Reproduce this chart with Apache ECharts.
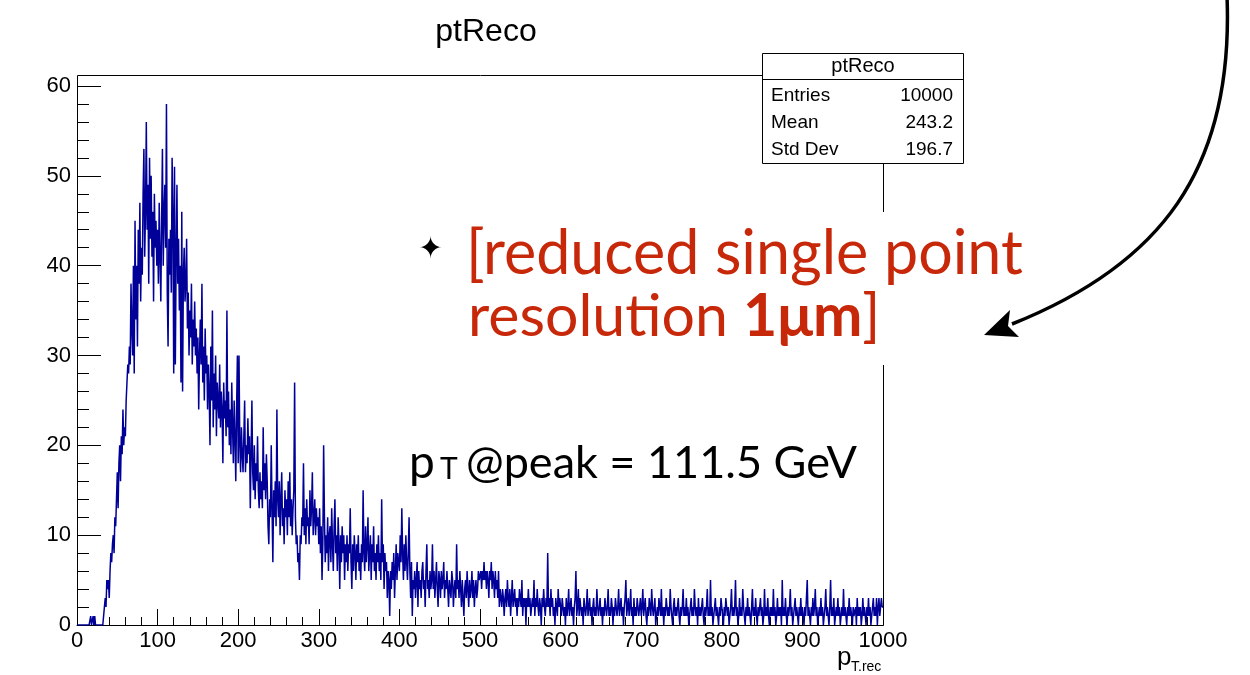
<!DOCTYPE html>
<html>
<head>
<meta charset="utf-8">
<title>ptReco</title>
<script src="https://cdn.jsdelivr.net/npm/echarts@6/dist/echarts.min.js"></script>
<style>
  html, body { margin: 0; padding: 0; background: #fff; }
  #chart { width: 1250px; height: 675px; }
</style>
</head>
<body>
<div id="chart"></div>
<script>
// histogram ptReco, 1000 bins of width 1 GeV from 0 to 1000
const binWidth = 1;
const xRange = [0, 1000];
const yRange = [0, 60];

const counts0 = [
  0,0,0,0,0,0,0,0,0,0,
  0,0,0,0,0,0,0,1,0,0,
  1,0,1,0,0,0,0,0,0,0,
  0,0,0,1,1,3,2,5,4,5,
  3,6,8,7,9,10,8,12,11,14,
  17,13,18,20,16,21,19,24,20,22,
  21,25,27,29,28,31,29,38,33,30,
  40,28,45,34,40,31,44,38,47,36,
  42,39,48,53,41,46,56,44,49,38,
  52,43,50,41,46,36,48,42,45,40
];
const counts1 = [
  44,38,47,41,36,45,53,40,46,49,
  42,58,37,31,43,39,44,37,52,46,
  28,51,29,41,49,38,43,35,40,27,
  46,26,39,42,36,38,43,33,37,30,
  35,32,38,29,34,31,36,30,33,28,
  32,24,30,34,29,38,27,31,25,33,
  28,30,24,29,26,20,31,25,35,22,
  28,24,30,21,27,25,23,29,22,26,
  24,18,27,23,25,21,35,22,26,20,
  24,19,27,22,18,25,21,16,24,30
];
const counts2 = [
  18,30,20,17,22,19,17,21,25,17,
  20,18,23,19,21,13,19,25,17,15,
  20,14,18,16,21,15,13,17,14,16,
  13,22,15,18,14,19,16,11,9,14,
  12,20,13,7,15,12,16,11,24,14,
  12,16,10,14,17,11,13,9,15,12,
  14,10,16,12,17,11,14,10,13,15,
  27,12,9,10,7,8,5,10,9,12,
  11,18,10,13,9,14,11,12,9,15,
  11,13,17,10,12,14,10,13,11,12
];
const counts3 = [
  9,13,8,11,5,9,20,12,7,10,
  8,12,6,10,11,7,13,9,6,11,
  14,8,10,6,12,9,4,10,7,11,
  8,10,5,9,7,10,6,9,8,13,
  7,4,9,6,10,8,5,9,7,10,
  6,8,5,9,7,15,8,6,11,7,
  9,12,6,8,10,5,9,7,11,6,
  8,5,9,7,10,6,8,5,14,7,
  9,4,8,6,7,3,6,5,1,6,
  4,7,5,8,3,6,9,5,8,7
];
const counts4 = [
  6,10,7,13,8,5,9,6,10,7,
  5,8,12,6,3,7,1,5,4,6,
  3,5,7,2,6,4,5,3,6,7,
  4,5,2,6,9,4,5,3,6,4,
  5,9,4,6,3,5,7,4,2,6,
  5,3,6,4,5,7,3,5,4,6,
  6,2,5,4,3,6,5,2,4,5,
  3,9,4,5,3,6,4,2,5,3,
  1,4,5,3,6,4,2,5,3,4,
  6,3,5,2,4,5,3,4,6,5
];
const counts5 = [
  5,6,4,6,5,7,5,6,4,6,
  5,3,6,5,7,4,6,5,3,6,
  4,5,3,6,2,4,3,2,4,3,
  1,3,4,2,5,3,2,4,1,3,
  5,2,3,4,2,3,1,3,2,4,
  3,2,5,1,3,2,3,0,3,2,
  4,2,3,1,2,3,2,5,1,3,
  2,4,2,1,3,2,0,3,2,4,
  2,1,3,2,8,2,3,1,4,2,
  3,1,2,0,3,2,1,4,2,3
];
const counts6 = [
  2,1,3,2,1,2,0,3,1,2,
  4,1,2,3,1,2,0,2,3,6,
  1,2,4,1,3,2,1,2,0,3,
  2,1,2,4,1,2,3,1,2,0,
  2,3,1,2,1,4,2,1,2,3,
  1,2,0,2,1,3,2,1,2,4,
  1,2,1,3,2,0,2,1,3,2,
  1,2,4,1,2,3,1,2,0,2,
  3,5,1,2,3,1,2,4,1,2,
  0,3,1,2,1,3,2,1,2,3
];
const counts7 = [
  1,2,4,1,2,3,1,0,2,1,
  3,2,1,4,2,1,2,3,0,1,
  2,1,3,2,1,4,1,2,0,2,
  1,3,2,1,2,1,4,2,1,0,
  2,3,1,2,1,2,3,1,0,2,
  1,2,4,1,2,1,3,1,2,0,
  1,2,3,1,2,1,4,2,1,2,
  0,3,1,2,1,2,3,1,0,2,
  1,2,4,1,2,1,5,1,2,0,
  1,2,3,1,2,1,0,2,1,3
];
const counts8 = [
  2,1,0,2,1,3,2,1,2,0,
  1,2,4,1,2,1,2,5,1,2,
  0,1,3,1,2,1,4,2,1,0,
  2,1,3,1,2,1,0,2,4,1,
  2,1,3,1,0,2,1,2,3,1,
  2,0,1,4,1,2,1,3,1,0,
  2,1,2,1,4,1,2,0,1,3,
  1,2,1,2,0,5,1,2,1,3,
  1,0,2,1,2,4,1,2,0,1,
  2,3,1,2,1,0,2,1,3,1
];
const counts9 = [
  2,1,0,2,1,3,5,1,2,1,
  0,2,1,3,1,2,4,1,2,0,
  1,2,1,3,1,2,0,1,2,4,
  1,2,1,0,2,5,1,2,1,3,
  0,1,2,1,3,1,2,0,1,2,
  1,4,1,2,1,0,2,1,3,1,
  2,1,0,2,1,1,2,0,3,1,
  2,1,2,0,1,3,1,2,1,0,
  2,1,3,1,2,0,1,2,3,1,
  2,1,3,0,2,3,1,2,3,2
];

const counts = counts0.concat(counts1, counts2, counts3, counts4,
  counts5, counts6, counts7, counts8, counts9);

const statTitle = 'ptReco';
const statRows = [
  ['Entries', '10000'],
  ['Mean', '243.2'],
  ['Std Dev', '196.7'],
];

// step outline: each bin drawn flat from its low edge to the next edge
const histData = counts.map((c, i) => [xRange[0] + i * binWidth, c]);
histData.push([xRange[1], counts[counts.length - 1]]);

const rootFont = '"Liberation Sans", Arial, sans-serif';
const slideFont = 'Lato, "Noto Sans", sans-serif';
const red = '#c8280a';

const chart = echarts.init(document.getElementById('chart'));

const statGraphics = [
  {
    type: 'rect', z: 30,
    shape: { x: 762.5, y: 53.5, width: 201, height: 110 },
    style: { fill: '#fff', stroke: '#000', lineWidth: 1 },
  },
  {
    type: 'line', z: 31,
    shape: { x1: 762.5, y1: 79.5, x2: 963.5, y2: 79.5 },
    style: { stroke: '#000', lineWidth: 1 },
  },
  {
    type: 'text', z: 31, x: 863, y: 66,
    style: { text: statTitle, font: '20px ' + rootFont, fill: '#000', align: 'center', verticalAlign: 'middle' },
  },
];
statRows.forEach((row, i) => {
  const y = 96 + i * 27;
  statGraphics.push({
    type: 'text', z: 31, x: 771, y: y,
    style: { text: row[0], font: '19px ' + rootFont, fill: '#000', align: 'left', verticalAlign: 'middle' },
  });
  statGraphics.push({
    type: 'text', z: 31, x: 953, y: y,
    style: { text: row[1], font: '19px ' + rootFont, fill: '#000', align: 'right', verticalAlign: 'middle' },
  });
});

const option = {
  backgroundColor: '#fff',
  animation: false,
  title: {
    text: 'ptReco',
    left: 481,
    top: 11,
    textAlign: 'center',
    textStyle: { fontFamily: rootFont, fontSize: 32, fontWeight: 'normal', color: '#000' },
  },
  grid: { left: 77, right: 367, top: 86, bottom: 50 },
  xAxis: {
    type: 'value',
    min: xRange[0],
    max: xRange[1],
    interval: 100,
    axisLine: { show: true, lineStyle: { color: '#000', width: 1 } },
    axisTick: { show: true, inside: true, length: 16, lineStyle: { color: '#000' } },
    minorTick: { show: true, splitNumber: 5, length: 8, lineStyle: { color: '#000' } },
    splitLine: { show: false },
    axisLabel: { fontFamily: rootFont, fontSize: 22, color: '#000', margin: 5, formatter: (v) => String(v) },
  },
  yAxis: {
    type: 'value',
    min: yRange[0],
    max: yRange[1],
    interval: 10,
    axisLine: { show: true, lineStyle: { color: '#000', width: 1 } },
    axisTick: { show: true, inside: true, length: 24, lineStyle: { color: '#000' } },
    minorTick: { show: true, splitNumber: 5, length: 12, lineStyle: { color: '#000' } },
    splitLine: { show: false },
    axisLabel: { fontFamily: rootFont, fontSize: 22, color: '#000', margin: 6 },
  },
  series: [
    {
      name: 'ptReco',
      type: 'line',
      step: 'end',
      data: histData,
      showSymbol: false,
      sampling: 'none',
      lineStyle: { color: '#000099', width: 1.5 },
      z: 5,
    },
  ],
  graphic: [
    // rest of the frame (top edge and right edge)
    {
      type: 'rect', z: 1,
      shape: { x: 77.5, y: 75.5, width: 806, height: 550 },
      style: { fill: 'none', stroke: '#000', lineWidth: 1 },
    },
    ...statGraphics,
    // axis title p_T.rec
    {
      type: 'text', z: 31, x: 837, y: 658,
      style: { text: 'p', font: '26px ' + rootFont, fill: '#000', verticalAlign: 'middle' },
    },
    {
      type: 'text', z: 31, x: 851, y: 667,
      style: { text: 'T.rec', font: '14px ' + rootFont, fill: '#000', verticalAlign: 'middle' },
    },
    // slide annotation on white
    {
      type: 'rect', z: 40,
      shape: { x: 405, y: 212, width: 640, height: 153 },
      style: { fill: '#fff' },
    },
    {
      type: 'text', z: 41, x: 418, y: 250,
      style: { text: '\u2726', font: '30px "DejaVu Sans"', fill: '#000', verticalAlign: 'middle' },
    },
    {
      type: 'text', z: 41, x: 466, y: 254,
      style: { text: '[reduced single point', font: '61px ' + slideFont, fill: red, verticalAlign: 'middle' },
    },
    {
      type: 'text', z: 41, x: 468, y: 317,
      style: {
        text: '{a|resolution }{b|1\u03bcm}{a|]}',
        verticalAlign: 'middle',
        fill: red,
        rich: {
          a: { fontFamily: slideFont, fontSize: 59, fill: red },
          b: { fontFamily: slideFont, fontSize: 59, fontWeight: 'bold', fill: red },
        },
      },
    },
    {
      type: 'text', z: 41, x: 409, y: 463,
      style: { text: 'p', font: '46px ' + slideFont, fill: '#000', verticalAlign: 'middle' },
    },
    {
      type: 'text', z: 41, x: 440, y: 469,
      style: { text: 'T', font: '30px ' + slideFont, fill: '#000', verticalAlign: 'middle' },
    },
    {
      type: 'text', z: 41, x: 466, y: 463,
      style: { text: '@peak = 111.5 GeV', font: '45px ' + slideFont, fill: '#000', verticalAlign: 'middle' },
    },
    // curved arrow
    {
      type: 'bezierCurve', z: 41,
      shape: { x1: 1227, y1: -4, cpx1: 1234, cpy1: 170, cpx2: 1160, cpy2: 265, x2: 1012, y2: 324 },
      style: { stroke: '#000', lineWidth: 3.5, fill: 'none' },
    },
    {
      type: 'polygon', z: 42,
      shape: { points: [[984, 335], [1019, 337], [1008, 326], [1010, 310]] },
      style: { fill: '#000' },
    },
  ],
};

chart.setOption(option);
</script>
</body>
</html>
